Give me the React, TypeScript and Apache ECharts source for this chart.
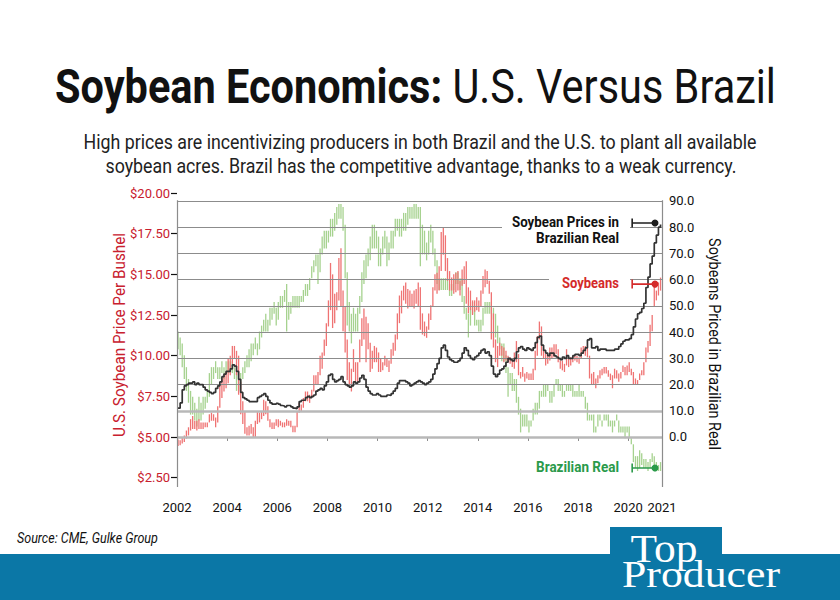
import React, { useEffect, useRef } from 'react';
import * as echarts from 'echarts';

// ---------- data (monthly, Jan 2002 .. Apr 2021) ----------
const START_YEAR = 2002;

// U.S. soybean price, $/bu (monthly low / high)
const soyLow = [
  4.45, 4.5, 4.6, 4.7, 4.9, 5.1, 5.4, 5.5, 5.5, 5.4, 5.5, 5.5,
  5.5, 5.6, 5.6, 5.9, 6.0, 6.0, 5.6, 5.9, 6.8, 7.4, 7.8, 8.0,
  8.3, 8.8, 9.5, 9.8, 8.8, 7.6, 6.4, 5.8, 5.2, 5.1, 5.1, 5.2,
  5.0, 5.0, 5.8, 5.9, 6.1, 6.3, 6.4, 6.0, 5.6, 5.5, 5.5, 5.7,
  5.6, 5.7, 5.6, 5.6, 5.7, 5.7, 5.6, 5.3, 5.3, 5.6, 6.5, 6.6,
  6.8, 7.2, 7.2, 7.1, 7.4, 7.8, 8.2, 8.2, 8.8, 9.2, 10.0, 10.6,
  11.8, 12.8, 11.7, 12.0, 12.8, 13.4, 13.0, 11.5, 10.2, 8.5, 8.2, 7.8,
  9.0, 8.4, 8.4, 9.6, 10.6, 11.0, 9.6, 10.4, 9.0, 9.2, 9.6, 9.6,
  9.0, 9.0, 9.1, 9.4, 9.3, 9.0, 9.5, 10.0, 10.3, 11.0, 12.0, 12.6,
  13.4, 13.2, 12.9, 13.0, 13.0, 12.9, 13.2, 13.0, 11.6, 11.3, 11.2, 11.1,
  11.6, 12.2, 13.0, 14.0, 13.8, 14.0, 15.2, 16.2, 15.2, 14.6, 14.0, 14.0,
  13.8, 13.9, 14.0, 13.7, 14.3, 14.4, 13.2, 12.6, 12.8, 12.5, 12.7, 12.8,
  12.7, 13.0, 13.8, 14.2, 14.4, 13.8, 11.0, 10.5, 9.6, 9.3, 10.0, 10.0,
  9.6, 9.7, 9.6, 9.5, 9.3, 9.2, 9.6, 8.8, 8.6, 8.7, 8.4, 8.6,
  8.5, 8.5, 8.5, 9.1, 10.0, 11.0, 10.0, 9.8, 9.4, 9.5, 9.7, 9.8,
  9.9, 10.1, 9.6, 9.2, 9.1, 9.0, 9.4, 9.3, 9.4, 9.6, 9.7, 9.6,
  9.5, 9.8, 10.1, 10.0, 9.9, 8.6, 8.2, 8.2, 8.0, 8.3, 8.6, 8.8,
  8.9, 8.9, 8.7, 8.5, 8.0, 8.6, 8.6, 8.4, 8.6, 9.0, 8.8, 8.8,
  9.0, 8.8, 8.2, 8.2, 8.2, 8.5, 8.8, 8.8, 9.6, 10.2, 10.6, 11.5,
  13.0, 13.4, 13.7, 14.0,
];
const soyHigh = [
  4.85, 4.8, 5.0, 5.1, 5.4, 5.6, 6.1, 6.3, 6.0, 6.0, 6.1, 5.9,
  5.9, 5.9, 5.9, 6.4, 6.5, 6.4, 6.2, 6.9, 8.2, 8.6, 8.8, 9.0,
  9.8, 10.0, 10.6, 10.6, 10.3, 10.0, 8.4, 7.2, 6.6, 5.6, 5.7, 5.8,
  5.6, 6.0, 6.6, 6.5, 6.6, 7.3, 7.2, 6.9, 6.1, 5.9, 5.9, 6.1,
  6.1, 6.0, 5.9, 5.9, 6.1, 6.0, 6.0, 5.7, 5.7, 6.6, 7.1, 7.0,
  7.4, 7.8, 7.8, 7.6, 7.9, 8.8, 8.8, 9.0, 10.0, 10.2, 11.0, 12.0,
  13.4, 15.7, 15.0, 13.8, 13.9, 16.0, 16.6, 14.0, 13.0, 11.0, 9.6, 9.2,
  10.4, 9.6, 9.6, 11.0, 12.3, 12.9, 12.4, 12.0, 10.8, 10.3, 10.6, 10.5,
  10.2, 9.8, 9.6, 10.0, 9.8, 9.7, 10.4, 10.8, 11.3, 12.6, 13.7, 14.0,
  14.3, 14.5, 14.1, 14.0, 13.8, 14.0, 14.1, 14.5, 14.2, 12.6, 12.1, 11.8,
  12.6, 13.1, 14.2, 15.0, 15.1, 15.5, 17.6, 17.9, 17.4, 16.0, 15.2, 14.8,
  15.0, 15.1, 15.2, 14.6, 15.3, 15.5, 15.8, 14.2, 14.0, 13.4, 13.4, 13.6,
  13.4, 14.0, 14.9, 15.3, 15.2, 14.6, 13.9, 12.6, 11.0, 10.6, 10.8, 10.6,
  10.5, 10.3, 10.0, 9.9, 9.7, 10.2, 10.9, 10.1, 9.0, 9.3, 8.9, 9.0,
  8.9, 8.9, 9.2, 10.3, 11.2, 12.1, 11.8, 10.5, 10.1, 10.0, 10.5, 10.5,
  10.7, 10.7, 10.4, 9.7, 9.7, 9.5, 10.4, 9.8, 9.9, 10.0, 10.0, 10.0,
  9.9, 10.5, 10.6, 10.6, 10.5, 10.0, 8.9, 9.0, 8.6, 8.8, 9.1, 9.2,
  9.3, 9.3, 9.1, 8.9, 8.8, 9.2, 9.1, 8.9, 9.0, 9.4, 9.3, 9.4,
  9.6, 9.2, 9.0, 8.6, 8.5, 8.9, 9.1, 9.6, 10.5, 10.9, 11.9, 12.5,
  14.4, 14.0, 14.5, 14.8,
];

// Brazilian real, US$ per real (monthly low / high)
const realLow = [
  0.38, 0.37, 0.35, 0.33, 0.31, 0.29, 0.27, 0.27, 0.26, 0.25, 0.26, 0.26,
  0.27, 0.28, 0.29, 0.30, 0.32, 0.33, 0.34, 0.33, 0.33, 0.34, 0.33, 0.34,
  0.34, 0.34, 0.34, 0.33, 0.31, 0.31, 0.32, 0.33, 0.34, 0.35, 0.35, 0.36,
  0.37, 0.38, 0.37, 0.38, 0.40, 0.41, 0.41, 0.41, 0.42, 0.43, 0.44, 0.42,
  0.43, 0.45, 0.45, 0.46, 0.41, 0.43, 0.44, 0.45, 0.45, 0.45, 0.45, 0.46,
  0.46, 0.47, 0.47, 0.48, 0.50, 0.51, 0.52, 0.49, 0.51, 0.54, 0.55, 0.55,
  0.56, 0.57, 0.57, 0.58, 0.59, 0.60, 0.60, 0.58, 0.50, 0.42, 0.41, 0.39,
  0.41, 0.41, 0.41, 0.44, 0.46, 0.49, 0.50, 0.52, 0.53, 0.55, 0.55, 0.55,
  0.52, 0.52, 0.54, 0.55, 0.52, 0.53, 0.55, 0.55, 0.57, 0.58, 0.57, 0.57,
  0.58, 0.58, 0.59, 0.60, 0.60, 0.60, 0.60, 0.60, 0.52, 0.54, 0.54, 0.53,
  0.54, 0.56, 0.54, 0.52, 0.49, 0.48, 0.48, 0.48, 0.48, 0.48, 0.47, 0.47,
  0.48, 0.49, 0.49, 0.48, 0.46, 0.44, 0.43, 0.40, 0.42, 0.44, 0.42, 0.42,
  0.41, 0.41, 0.42, 0.44, 0.44, 0.44, 0.44, 0.43, 0.40, 0.39, 0.38, 0.36,
  0.36, 0.34, 0.30, 0.32, 0.31, 0.31, 0.29, 0.27, 0.24, 0.25, 0.25, 0.25,
  0.24, 0.25, 0.26, 0.27, 0.27, 0.28, 0.30, 0.30, 0.30, 0.31, 0.29, 0.29,
  0.30, 0.32, 0.31, 0.31, 0.30, 0.30, 0.31, 0.31, 0.31, 0.30, 0.30, 0.30,
  0.30, 0.30, 0.30, 0.28, 0.26, 0.26, 0.26, 0.24, 0.24, 0.25, 0.26, 0.25,
  0.26, 0.26, 0.25, 0.25, 0.24, 0.25, 0.26, 0.24, 0.24, 0.24, 0.23, 0.24,
  0.23, 0.22, 0.19, 0.18, 0.175, 0.18, 0.185, 0.18, 0.18, 0.175, 0.18, 0.19,
  0.18, 0.18, 0.175, 0.175,
];
const realHigh = [
  0.41, 0.40, 0.39, 0.37, 0.35, 0.33, 0.31, 0.30, 0.29, 0.28, 0.30, 0.29,
  0.30, 0.30, 0.31, 0.34, 0.35, 0.35, 0.36, 0.35, 0.35, 0.36, 0.35, 0.36,
  0.36, 0.36, 0.36, 0.35, 0.34, 0.33, 0.34, 0.35, 0.36, 0.37, 0.38, 0.39,
  0.39, 0.40, 0.39, 0.41, 0.42, 0.43, 0.44, 0.43, 0.45, 0.45, 0.46, 0.45,
  0.46, 0.47, 0.47, 0.48, 0.49, 0.46, 0.46, 0.47, 0.47, 0.47, 0.47, 0.47,
  0.48, 0.49, 0.49, 0.50, 0.52, 0.53, 0.54, 0.54, 0.55, 0.57, 0.58, 0.58,
  0.58, 0.60, 0.60, 0.61, 0.62, 0.625, 0.625, 0.62, 0.59, 0.51, 0.46, 0.44,
  0.45, 0.44, 0.45, 0.47, 0.51, 0.53, 0.54, 0.55, 0.57, 0.59, 0.59, 0.58,
  0.57, 0.55, 0.57, 0.58, 0.57, 0.56, 0.58, 0.58, 0.60, 0.60, 0.60, 0.60,
  0.61, 0.61, 0.62, 0.62, 0.62, 0.625, 0.625, 0.62, 0.62, 0.59, 0.58, 0.56,
  0.58, 0.59, 0.58, 0.55, 0.53, 0.50, 0.50, 0.50, 0.50, 0.50, 0.49, 0.49,
  0.50, 0.51, 0.51, 0.50, 0.50, 0.47, 0.45, 0.44, 0.45, 0.46, 0.45, 0.43,
  0.43, 0.43, 0.45, 0.46, 0.46, 0.46, 0.46, 0.45, 0.44, 0.42, 0.40, 0.39,
  0.39, 0.37, 0.35, 0.34, 0.34, 0.33, 0.33, 0.30, 0.28, 0.27, 0.27, 0.27,
  0.26, 0.26, 0.28, 0.29, 0.29, 0.31, 0.31, 0.32, 0.32, 0.32, 0.31, 0.31,
  0.32, 0.33, 0.33, 0.32, 0.32, 0.31, 0.32, 0.32, 0.32, 0.32, 0.31, 0.31,
  0.32, 0.31, 0.31, 0.30, 0.29, 0.27, 0.27, 0.27, 0.25, 0.27, 0.27, 0.26,
  0.27, 0.27, 0.27, 0.26, 0.26, 0.26, 0.27, 0.26, 0.25, 0.25, 0.25, 0.25,
  0.25, 0.23, 0.22, 0.20, 0.20, 0.21, 0.205, 0.195, 0.195, 0.19, 0.195, 0.205,
  0.20, 0.19, 0.185, 0.19,
];

// Soybean price in Brazilian real (monthly)
const soyInReal = [
  11, 13, 18, 19.5, 20, 20.5, 20.5, 21, 20, 20.5, 20, 20,
  19, 18, 17.5, 17, 16.5, 17, 18.5, 19.5, 21, 23, 24, 25,
  25, 26, 27.5, 27, 25, 22, 17, 15, 14.5, 14, 13.5, 13.5,
  13.5, 13.5, 15, 15.5, 16, 16.5, 15.5, 14, 13, 12.5, 12.5, 12.8,
  12.5, 12, 11.8, 11.5, 12, 12, 11.5, 11, 10.8, 11.5, 13.5, 14,
  14, 15, 15.5, 15, 15.5, 16, 17.5, 18, 18.5, 18, 19.5, 21,
  23.5, 24, 22, 21, 21.5, 22, 23, 21, 20, 19.5, 19, 19.5,
  21, 20.5, 21, 22.5, 23.5, 22, 19, 17.5, 16.5, 16, 16, 16.5,
  16, 15.5, 15.5, 15.5, 16, 15.8, 16.5, 17.5, 18.5, 20.5, 21.5, 21.5,
  21.5, 21, 20.5, 19.5, 20, 20.5, 21, 21.5, 21, 20.5, 20, 20.5,
  21, 22, 24, 26, 28, 30, 34, 35, 33, 30.5, 29.5, 29,
  28.5, 28.5, 29, 30, 32, 34, 33, 31, 30, 29.5, 30.5, 31,
  32, 33, 33.5, 32, 32.5, 31, 27, 24, 23, 24, 25.5, 26,
  27, 28.5, 30, 29.5, 29, 30, 32.5, 34, 34.5, 33.5, 33, 34,
  33.5, 33, 34, 36, 38, 38.5, 35, 33, 32, 31, 32, 32,
  31, 30.5, 30, 29.5, 30.5, 30, 31, 30, 30, 31, 31.5, 31.5,
  31, 32, 33, 34, 37, 37.5, 34, 34, 34.5, 33, 33.5, 33.5,
  33.5, 33, 33, 33, 33, 33.5, 33.5, 34.5, 35.5, 36.5, 37, 37,
  37.5, 39, 42, 45, 47, 47.5, 49, 51, 57, 61, 66, 69,
  74, 77, 80, 81,
];

// Axis ticks
const yearTicks = [2002, 2004, 2006, 2008, 2010, 2012, 2014, 2016, 2018, 2020, 2021.35];
const usdTicks = [2.5, 5, 7.5, 10, 12.5, 15, 17.5, 20];
const brlTicks = [0, 10, 20, 30, 40, 50, 60, 70, 80, 90];

// Latest-value markers (bracket start / dot)
const markerX = [2020.16, 2021.07];
const markerInReal = 81.6;
const markerSoy = 14.4;
const markerReal = 0.18;

// Axis ranges
const X_MIN = 2002;
const X_MAX = 2021.35;
const USD_MIN = 1.93;
const USD_MAX = 20;
const BRL_MIN = -19.08;
const BRL_MAX = 93.05;
const REAL_MIN = 0.148;
const REAL_MAX = 0.6435;

const SANS = 'Roboto, "DejaVu Sans Condensed", sans-serif';
const SERIF = '"Liberation Serif", "DejaVu Serif", serif';

const monthX = (i: number) => START_YEAR + (i + 0.5) / 12;

let measureCtx: CanvasRenderingContext2D | null = null;
const measure = (text: string, font: string) => {
  if (!measureCtx) measureCtx = document.createElement('canvas').getContext('2d');
  if (!measureCtx) return text.length * 8;
  measureCtx.font = font;
  return measureCtx.measureText(text).width;
};

// a text squeezed horizontally to a target width (condensed look)
const fitText = (
  text: string, font: string, width: number, x: number, y: number,
  fill: string, align: string, extra: any = {}
) => ({
  type: 'text',
  x,
  y,
  scaleX: width / measure(text, font),
  z: 50,
  ...extra,
  style: { text, font, fill, align, verticalAlign: 'middle' },
});

const rangeRender = (color: string) => (params: any, api: any) => {
  const x = api.value(0);
  const lo = api.coord([x, api.value(1)]);
  const hi = api.coord([x, api.value(2)]);
  return {
    type: 'line',
    shape: { x1: lo[0], y1: lo[1], x2: hi[0], y2: hi[1] },
    style: { stroke: color, lineWidth: 1.3 },
  };
};

export default function App() {
  const ref = useRef<HTMLDivElement>(null);

  useEffect(() => {
    if (!ref.current) return;
    const chart = echarts.init(ref.current, undefined, { renderer: 'svg' });

    const soyData = soyLow.map((v, i) => [monthX(i), v, soyHigh[i]]);
    const realData = realLow.map((v, i) => [monthX(i), v, realHigh[i]]);
    const inRealData = soyInReal.map((v, i) => [monthX(i), v]);

    const gridLines: any[] = brlTicks.map((v) => ({
      yAxis: v,
      lineStyle: v <= 10
        ? { color: '#b8b8b8', width: 2.5, type: 'solid' }
        : { color: '#8c8c8c', width: 1, type: 'solid' },
    }));
    const axisLines: any[] = [X_MIN, X_MAX].map((x) => [
      { coord: [x, BRL_MIN], lineStyle: { color: '#8c8c8c', width: 1.2, type: 'solid' } },
      { coord: [x, 90.3] },
    ]);

    const markerSeries = (yAxisIndex: number, value: number, color: string) => ({
      type: 'line',
      yAxisIndex,
      z: 20,
      silent: true,
      data: [
        { value: [markerX[0], value], symbol: 'rect', symbolSize: [1.6, 9] },
        { value: [markerX[1], value], symbol: 'circle', symbolSize: 7 },
      ],
      lineStyle: { color, width: 1.6 },
      itemStyle: { color },
    });

    const titleBold = `bold 48px ${SANS}`;
    const titleReg = `48px ${SANS}`;
    const titleScale = 721 / (measure('Soybean Economics:', titleBold) + measure(' U.S. Versus Brazil', titleReg));

    const sub1 = 'High prices are incentivizing producers in both Brazil and the U.S. to plant all available';
    const sub2 = 'soybean acres. Brazil has the competitive advantage, thanks to a weak currency.';
    const subFont = `21px ${SANS}`;
    const subScale = 674 / measure(sub1, subFont);

    const annFont = `bold 15.5px ${SANS}`;

    chart.setOption({
      animation: false,
      backgroundColor: '#ffffff',
      grid: { left: 177, right: 178, top: 193, bottom: 113 },
      xAxis: {
        type: 'value',
        min: X_MIN,
        max: X_MAX,
        splitLine: { show: false },
        axisLine: { show: true, lineStyle: { color: '#8c8c8c', width: 1.2 } },
        axisTick: { show: true, length: 4, customValues: yearTicks, lineStyle: { color: '#8c8c8c' } },
        axisLabel: {
          customValues: yearTicks,
          formatter: (v: number) => (v > 2021 ? '2021' : String(Math.round(v))),
          color: '#111',
          fontFamily: SANS,
          fontSize: 13,
          margin: 14,
        },
      },
      yAxis: [
        {
          type: 'value',
          position: 'left',
          min: USD_MIN,
          max: USD_MAX,
          splitLine: { show: false },
          axisLine: { show: false },
          axisTick: { show: true, length: 6, customValues: usdTicks, lineStyle: { color: '#111', width: 1.2 } },
          axisLabel: {
            customValues: usdTicks,
            formatter: (v: number) => '$' + v.toFixed(2),
            color: '#c8202e',
            fontFamily: SANS,
            fontSize: 13,
            margin: 7,
          },
        },
        {
          type: 'value',
          position: 'right',
          min: BRL_MIN,
          max: BRL_MAX,
          splitLine: { show: false },
          axisLine: { show: false },
          axisTick: { show: false },
          axisLabel: {
            customValues: brlTicks,
            formatter: (v: number) => v.toFixed(1),
            color: '#111',
            fontFamily: SANS,
            fontSize: 13,
            margin: 7,
          },
        },
        {
          type: 'value',
          show: false,
          min: REAL_MIN,
          max: REAL_MAX,
          splitLine: { show: false },
        },
      ],
      series: [
        {
          name: 'grid',
          type: 'line',
          yAxisIndex: 1,
          z: 1,
          silent: true,
          data: [],
          markLine: {
            silent: true,
            symbol: 'none',
            animation: false,
            label: { show: false },
            data: [...gridLines, ...axisLines],
          },
        },
        {
          name: 'Brazilian Real',
          type: 'custom',
          yAxisIndex: 2,
          z: 3,
          silent: true,
          renderItem: rangeRender('#a6d28f'),
          encode: { x: 0, y: [1, 2] },
          data: realData,
        },
        {
          name: 'Soybeans',
          type: 'custom',
          yAxisIndex: 0,
          z: 4,
          silent: true,
          renderItem: rangeRender('#ef7373'),
          encode: { x: 0, y: [1, 2] },
          data: soyData,
        },
        {
          name: 'Soybean Prices in Brazilian Real',
          type: 'line',
          yAxisIndex: 1,
          z: 5,
          silent: true,
          step: 'end',
          showSymbol: false,
          lineStyle: { color: '#333333', width: 1.7 },
          data: inRealData,
        },
        markerSeries(1, markerInReal, '#1e1e1e'),
        markerSeries(0, markerSoy, '#d42a2a'),
        markerSeries(2, markerReal, '#2a9a4a'),
      ],
      graphic: [
        {
          type: 'text',
          x: 415.5,
          y: 86,
          scaleX: titleScale,
          style: {
            text: '{b|Soybean Economics:}{r| U.S. Versus Brazil}',
            align: 'center',
            verticalAlign: 'middle',
            rich: {
              b: { font: titleBold, fill: '#111' },
              r: { font: titleReg, fill: '#111' },
            },
          },
        },
        { ...fitText(sub1, subFont, 674, 420, 142, '#222', 'center'), scaleX: subScale },
        { ...fitText(sub2, subFont, 626, 421, 166, '#222', 'center'), scaleX: subScale },
        fitText('U.S. Soybean Price Per Bushel', `17px ${SANS}`, 204, 119, 335, '#c8202e', 'center', { rotation: Math.PI / 2 }),
        fitText('Soybeans Priced in Brazilian Real', `17px ${SANS}`, 212, 715, 344, '#111', 'center', { rotation: -Math.PI / 2 }),
        // annotation backgrounds (hide the grid lines behind labels)
        { type: 'rect', z: 40, shape: { x: 502, y: 213, width: 128, height: 34 }, style: { fill: '#ffffff' } },
        { type: 'rect', z: 40, shape: { x: 549, y: 275, width: 81, height: 17 }, style: { fill: '#ffffff' } },
        fitText('Soybean Prices in', annFont, 107, 619, 222, '#111', 'right'),
        fitText('Brazilian Real', annFont, 83, 619, 238, '#111', 'right'),
        fitText('Soybeans', annFont, 57, 619, 283, '#d42a2a', 'right'),
        fitText('Brazilian Real', annFont, 83, 619, 467, '#2a9a4a', 'right'),
        fitText('Source: CME, Gulke Group', `italic 14px ${SANS}`, 141, 17, 538, '#111', 'left'),
        {
          type: 'rect',
          shape: { x: 0, y: 554, width: 840, height: 46 },
          style: { fill: '#0b77a6' },
        },
        {
          type: 'rect',
          shape: { x: 610, y: 527, width: 112, height: 28 },
          style: { fill: '#0b77a6' },
        },
        fitText('Top', `40px ${SERIF}`, 67, 664, 549, '#ffffff', 'center'),
        fitText('Producer', `37px ${SERIF}`, 158, 701, 575, '#ffffff', 'center'),
      ],
    });

    return () => chart.dispose();
  }, []);

  return (
    <div
      ref={ref}
      style={{ position: 'fixed', left: 0, top: 0, width: 840, height: 600, background: '#fff' }}
    />
  );
}
